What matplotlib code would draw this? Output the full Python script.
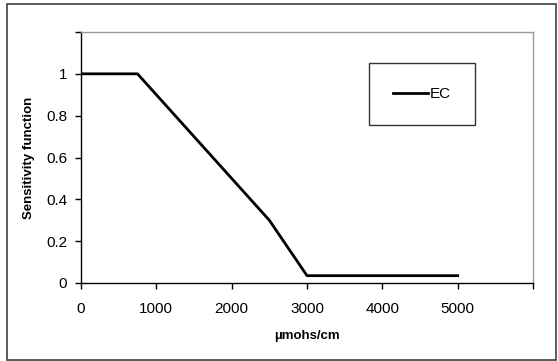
import matplotlib
matplotlib.use("Agg")
import matplotlib.pyplot as plt
from matplotlib.patches import Rectangle

# Data
ec_x = [0, 750, 1500, 2500, 3000, 5000]
ec_y = [1.0, 1.0, 0.7, 0.3, 0.035, 0.035]
x_ticks = [0, 1000, 2000, 3000, 4000, 5000, 6000]
x_tick_labels = ["0", "1000", "2000", "3000", "4000", "5000", ""]
y_ticks = [0, 0.2, 0.4, 0.6, 0.8, 1.0, 1.2]
y_tick_labels = ["0", "0.2", "0.4", "0.6", "0.8", "1", ""]
series_name = "EC"
x_label = "µmohs/cm"
y_label = "Sensitivity function"

plt.rcParams['font.family'] = ['Liberation Sans', 'DejaVu Sans']

W, H = 558, 361
fig = plt.figure(figsize=(W / 100, H / 100), dpi=100)

# outer border
fig.patches.append(Rectangle((7 / W, 1 - 360 / H), (556 - 7) / W, (360 - 4) / H,
                             transform=fig.transFigure, fill=False,
                             edgecolor="#404040", linewidth=1.2))

ax = fig.add_axes([81 / W, 1 - 283 / H, (533 - 81) / W, (283 - 32) / H])
ax.plot(ec_x, ec_y, color="black", linewidth=2.0, label=series_name)
ax.set_xlim(0, 6000)
ax.set_ylim(0, 1.2)
ax.set_xticks(x_ticks)
ax.set_xticklabels(x_tick_labels)
ax.set_yticks(y_ticks)
ax.set_yticklabels(y_tick_labels)
ax.tick_params(axis="both", direction="out", length=4, width=1, labelsize=11,
               colors="black", pad=6)
ax.tick_params(axis="x", pad=10)

for s in ["left", "bottom"]:
    ax.spines[s].set_color("black")
    ax.spines[s].set_linewidth(1.0)
for s in ["top", "right"]:
    ax.spines[s].set_color("#999999")
    ax.spines[s].set_linewidth(1.0)

ax.set_xlabel(x_label, fontsize=9.5, fontweight="bold", labelpad=10)
ax.set_ylabel(y_label, fontsize=9.5, fontweight="bold", labelpad=8)

leg = ax.legend(loc="upper left", bbox_to_anchor=((369 - 81) / (533 - 81), 1 - (63 - 32) / (283 - 32)),
                frameon=True, fancybox=False, fontsize=11, handlelength=2.3,
                handletextpad=0.1, borderpad=1.58, borderaxespad=0)
leg.get_frame().set_edgecolor("black")
leg.get_frame().set_linewidth(1.0)

fig.savefig("out.png", dpi=100)
